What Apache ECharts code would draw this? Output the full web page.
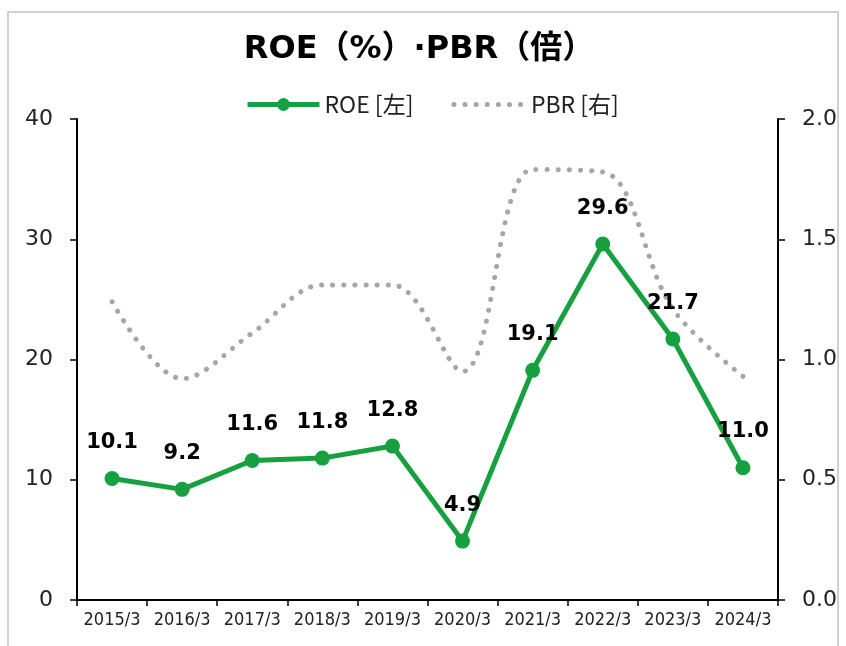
<!DOCTYPE html>
<html>
<head>
<meta charset="utf-8">
<script src="https://cdn.jsdelivr.net/npm/echarts@6/dist/echarts.min.js"></script>
<style>
  html, body { margin: 0; padding: 0; background: #fff; }
  #chart { width: 846px; height: 646px; }
</style>
</head>
<body>
<div id="chart"></div>
<script>
const years = ["2015/3", "2016/3", "2017/3", "2018/3", "2019/3", "2020/3", "2021/3", "2022/3", "2023/3", "2024/3"];
const roe = [10.1, 9.2, 11.6, 11.8, 12.8, 4.9, 19.1, 29.6, 21.7, 11.0];
const pbr = [1.24, 0.92, 1.11, 1.31, 1.31, 0.95, 1.79, 1.78, 1.21, 0.93];
const leftTicks = [0, 10, 20, 30, 40];
const rightTicks = [0.0, 0.5, 1.0, 1.5, 2.0];

const chartDom = document.getElementById("chart");
const myChart = echarts.init(chartDom);

const axisFont = "DejaVu Sans, Verdana, sans-serif";

const option = {
  animation: false,
  graphic: [
    {
      type: "rect",
      shape: { x: 8, y: 12, width: 830, height: 660 },
      style: { fill: "none", stroke: "#d0d0d0", lineWidth: 2 },
      silent: true,
    },
  ],
  title: {
    text: "ROE（%）·PBR（倍）",
    left: 414,
    top: 29,
    textAlign: "center",
    textStyle: {
      fontFamily: "DejaVu Sans, Noto Sans CJK JP, sans-serif",
      fontWeight: "bold",
      fontSize: 32,
      color: "#000",
    },
  },
  legend: {
    top: 88,
    left: 240,
    itemWidth: 72,
    itemHeight: 16,
    itemGap: 38,
    textStyle: {
      fontFamily: "Noto Sans CJK JP, sans-serif",
      fontSize: 23,
      color: "#222",
    },
    data: [
      { name: "ROE [左]", lineStyle: { width: 5 } },
      {
        name: "PBR [右]",
        itemStyle: { color: "rgba(0,0,0,0)", borderWidth: 0 },
        lineStyle: { width: 5 },
      },
    ],
  },
  grid: { left: 77, right: 68, top: 119, bottom: 46 },
  xAxis: {
    type: "category",
    data: years,
    boundaryGap: true,
    axisLine: { lineStyle: { color: "#000", width: 2 } },
    axisTick: { show: true, length: 6, lineStyle: { color: "#000", width: 1.5 } },
    axisLabel: {
      fontFamily: "DejaVu Sans Condensed, DejaVu Sans, sans-serif",
      fontSize: 18,
      color: "#222",
      margin: 11,
      interval: 0,
    },
  },
  yAxis: [
    {
      type: "value",
      min: leftTicks[0],
      max: leftTicks[leftTicks.length - 1],
      interval: 10,
      position: "left",
      splitLine: { show: false },
      axisLine: { show: true, lineStyle: { color: "#000", width: 2 } },
      axisTick: { show: true, length: 7, lineStyle: { color: "#000", width: 1.5 } },
      axisLabel: {
        fontFamily: axisFont,
        fontSize: 22,
        color: "#222",
        margin: 24,
      },
    },
    {
      type: "value",
      min: rightTicks[0],
      max: rightTicks[rightTicks.length - 1],
      interval: 0.5,
      position: "right",
      splitLine: { show: false },
      axisLine: { show: true, lineStyle: { color: "#000", width: 2 } },
      axisTick: { show: true, length: 7, lineStyle: { color: "#000", width: 1.5 } },
      axisLabel: {
        fontFamily: axisFont,
        fontSize: 22,
        color: "#222",
        margin: 24,
        formatter: (v) => v.toFixed(1),
      },
    },
  ],
  series: [
    {
      name: "PBR [右]",
      type: "line",
      yAxisIndex: 1,
      data: pbr,
      smooth: 0.35,
      symbol: "none",
      z: 1,
      lineStyle: { color: "#a6a6a6", width: 5, type: [0.1, 11], cap: "round" },
      itemStyle: { color: "#a6a6a6" },
    },
    {
      name: "ROE [左]",
      type: "line",
      yAxisIndex: 0,
      data: roe,
      symbol: "circle",
      symbolSize: 15,
      z: 3,
      lineStyle: { color: "#17a03f", width: 5 },
      itemStyle: { color: "#17a03f" },
      label: {
        show: true,
        position: "top",
        distance: 18,
        fontFamily: axisFont,
        fontWeight: "bold",
        fontSize: 21,
        color: "#000",
        formatter: (p) => p.value.toFixed(1),
      },
    },
  ],
};

myChart.setOption(option);
</script>
</body>
</html>
